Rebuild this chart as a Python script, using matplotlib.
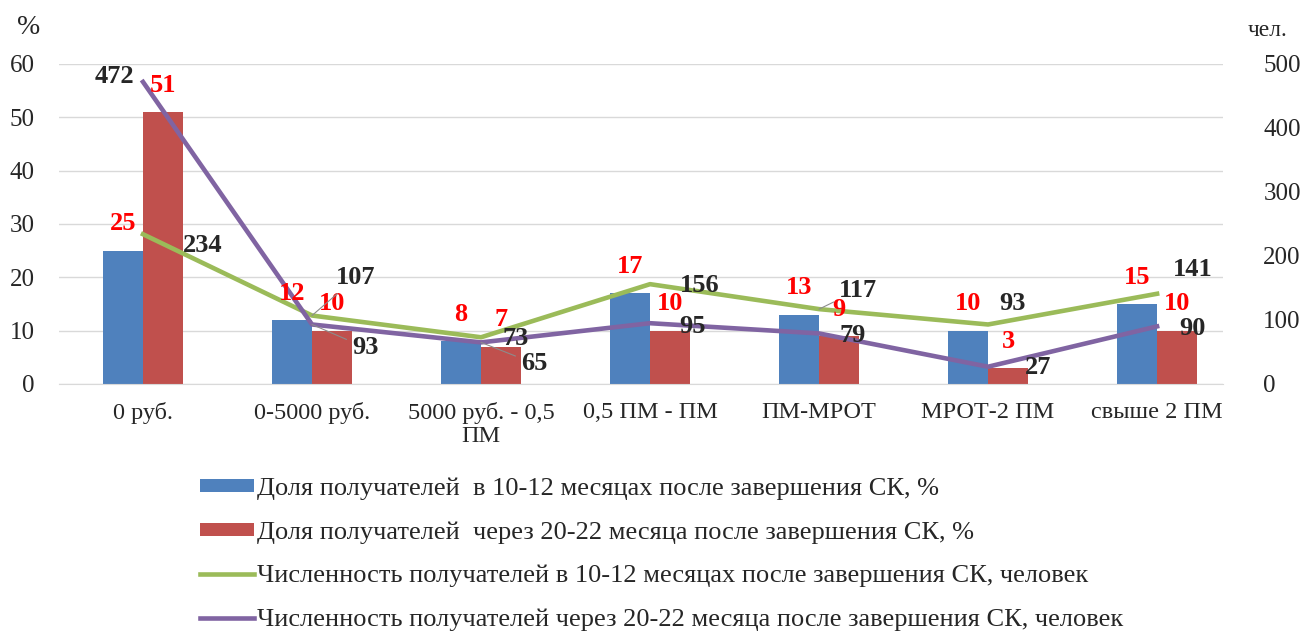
import matplotlib
matplotlib.use("Agg")
import matplotlib.pyplot as plt
import numpy as np

plt.rcParams['font.family'] = ['Liberation Serif', 'DejaVu Serif']

categories = ["0 руб.", "0-5000 руб.", "5000 руб. - 0,5\nПМ", "0,5 ПМ - ПМ",
              "ПМ-МРОТ", "МРОТ-2 ПМ", "свыше 2 ПМ"]
share_10_12 = [25, 12, 8, 17, 13, 10, 15]
share_20_22 = [51, 10, 7, 10, 9, 3, 10]
count_10_12 = [234, 107, 73, 156, 117, 93, 141]
count_20_22 = [472, 93, 65, 95, 79, 27, 90]

legend_labels = [
    "Доля получателей  в 10-12 месяцах после завершения СК, %",
    "Доля получателей  через 20-22 месяца после завершения СК, %",
    "Численность получателей в 10-12 месяцах после завершения СК, человек",
    "Численность получателей через 20-22 месяца после завершения СК, человек",
]

# label offsets in pixels (dx, dy) from the data point, plus leader line flag
green_offsets = [(60, -11), (44, 38), (35, -1), (50, -1), (39, 19), (24, 21), (36, 24)]
green_leader = [False, True, False, False, True, False, False]
purple_offsets = [(-29, 5), (53, -23), (53, -21), (42, -3), (34, -2), (50, -1), (35, -2)]
purple_leader = [False, True, True, False, False, False, False]

BLUE = "#4F81BD"
RED = "#C0504D"
GREEN = "#9BBB59"
PURPLE = "#8064A2"
GRID = "#D9D9D9"
TXT = "#262626"

W, H = 1306, 634
fig = plt.figure(figsize=(W / 100, H / 100), dpi=100)
left, right, top, bottom = 58.5, 1223, 64, 384
ax = fig.add_axes([left / W, 1 - bottom / H, (right - left) / W, (bottom - top) / H])
ax2 = ax.twinx()

x = np.arange(len(categories))
bw = 0.237
ax.bar(x - bw / 2, share_10_12, bw, color=BLUE, label=legend_labels[0])
ax.bar(x + bw / 2, share_20_22, bw, color=RED, label=legend_labels[1])
ax2.plot(x, count_10_12, color=GREEN, lw=3.3, label=legend_labels[2])
ax2.plot(x, count_20_22, color=PURPLE, lw=3.3, label=legend_labels[3])

ax.set_xlim(-0.5, 6.39)
ax.set_ylim(0, 60)
ax2.set_ylim(0, 500)
ax.set_yticks(range(0, 61, 10))
ax2.set_yticks(range(0, 501, 100))
ax.set_xticks(x)
ax.set_xticklabels(categories, fontsize=17.5, color=TXT, linespacing=1.1)
ax.tick_params(axis='x', length=0, pad=13)
ax.tick_params(axis='y', length=0, pad=17, labelsize=18, labelcolor=TXT)
ax2.tick_params(axis='y', length=0, pad=29, labelsize=18, labelcolor=TXT)
for lab in ax2.get_yticklabels():
    lab.set_horizontalalignment('left')

ax.set_axisbelow(True)
ax.grid(axis='y', color=GRID, lw=1)
for a in (ax, ax2):
    for s in a.spines.values():
        s.set_visible(False)
ax.spines['bottom'].set_visible(True)
ax.spines['bottom'].set_color(GRID)

# percentage labels above bars
for i in range(len(categories)):
    ax2.annotate(str(share_10_12[i]), xy=(x[i] - bw / 2, share_10_12[i]), xycoords=ax.transData,
                 xytext=(0, 27), textcoords='offset pixels', ha='center', va='center',
                 color='#FF0000', fontsize=19, fontweight='bold')
    ax2.annotate(str(share_20_22[i]), xy=(x[i] + bw / 2, share_20_22[i]), xycoords=ax.transData,
                 xytext=(0, 27), textcoords='offset pixels', ha='center', va='center',
                 color='#FF0000', fontsize=19, fontweight='bold')

# count labels near the line points
for vals, offs, leads in ((count_10_12, green_offsets, green_leader),
                          (count_20_22, purple_offsets, purple_leader)):
    for i, v in enumerate(vals):
        arrow = dict(arrowstyle='-', color='#8C8C8C', lw=0.8, shrinkA=2, shrinkB=0) if leads[i] else None
        ax2.annotate(str(v), xy=(x[i], v), xytext=offs[i], textcoords='offset pixels',
                     ha='center', va='center', color=TXT, fontsize=19, fontweight='bold',
                     arrowprops=arrow)

fig.text(29 / W, 1 - 27 / H, "%", fontsize=20, color=TXT, ha='center', va='center')
fig.text(1268 / W, 1 - 31 / H, "чел.", fontsize=17, color=TXT, ha='center', va='center')

h1, l1 = ax.get_legend_handles_labels()
h2, l2 = ax2.get_legend_handles_labels()
fig.legend(h1 + h2, l1 + l2, loc='upper left', bbox_to_anchor=(176 / W, 1 - 454 / H),
           frameon=False, fontsize=19, handlelength=2.05, handleheight=0.4,
           handletextpad=0.12, labelspacing=0.8, labelcolor=TXT)

fig.savefig("out.png", dpi=100)
